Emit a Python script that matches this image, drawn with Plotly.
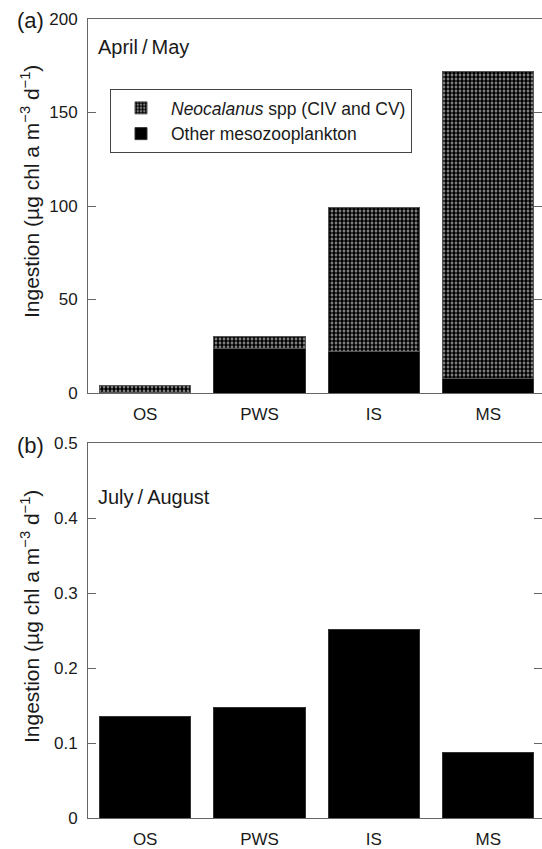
import plotly.graph_objects as go

categories = ["OS", "PWS", "IS", "MS"]
spring_other = [0.3, 24, 22, 8]
spring_neocalanus = [3.5, 6, 77, 164]
summer_other = [0.136, 0.147, 0.251, 0.088]

top_ticks = [0, 50, 100, 150, 200]
bottom_ticks = [0, 0.1, 0.2, 0.3, 0.4, 0.5]
bottom_ticktext = ["0", "0.1", "0.2", "0.3", "0.4", "0.5"]

FONT = "Liberation Sans, Arial, sans-serif"
AXC = "#666666"
TXT = "#1a1a1a"
W, H = 542, 849
L, R, T, B = 88, 0, 19, 31
PW, PH = W - L - R, H - T - B


def px_x(x):
    return (x - L) / PW


def px_y(y):
    return (H - B - y) / PH


fig = go.Figure()
fig.add_trace(go.Bar(
    x=categories, y=spring_other, name="Other mesozooplankton",
    marker=dict(color="black", line=dict(color="#333333", width=1)),
    width=0.8, xaxis="x", yaxis="y",
))
fig.add_trace(go.Bar(
    x=categories, y=spring_neocalanus, name="<i>Neocalanus</i> spp (CIV and CV)",
    marker=dict(color="#999999", line=dict(color="#555555", width=1),
                pattern=dict(shape=".", size=4, solidity=0.7,
                             fgcolor="black", bgcolor="#b0b0b0", fillmode="replace")),
    width=0.8, xaxis="x", yaxis="y",
))
fig.add_trace(go.Bar(
    x=categories, y=summer_other, name="Other mesozooplankton", showlegend=False,
    marker=dict(color="black", line=dict(color="#333333", width=1)),
    width=0.8, xaxis="x2", yaxis="y2",
))

xcommon = dict(type="category", range=[-0.5, 3.47], showline=True, linecolor=AXC,
               linewidth=1, mirror=True, ticks="", showgrid=False, zeroline=False,
               tickfont=dict(size=17, color=TXT, family=FONT),
               ticklabelstandoff=6)
ycommon = dict(showline=True, linecolor=AXC, linewidth=1, mirror="ticks",
               ticks="inside", ticklen=8, tickcolor=AXC, showgrid=False,
               zeroline=False, tickfont=dict(size=17, color=TXT, family=FONT),
               ticklabelstandoff=6)

top_dom = [px_y(393), 1.0]
bot_dom = [0.0, px_y(443)]

fig.update_layout(
    width=W, height=H, margin=dict(l=L, r=R, t=T, b=B),
    paper_bgcolor="white", plot_bgcolor="white",
    barmode="stack", bargap=0.2,
    font=dict(family=FONT, color=TXT),
    xaxis=dict(xcommon, anchor="y", domain=[0, 1]),
    yaxis=dict(ycommon, anchor="x", domain=top_dom, range=[0, 200],
               tickvals=top_ticks),
    xaxis2=dict(xcommon, anchor="y2", domain=[0, 1]),
    yaxis2=dict(ycommon, anchor="x2", domain=bot_dom, range=[0, 0.5],
                tickvals=bottom_ticks, ticktext=bottom_ticktext),
    legend=dict(x=px_x(110), y=px_y(89), xanchor="left", yanchor="top",
                traceorder="reversed", bordercolor="#444444", borderwidth=1,
                bgcolor="white", font=dict(size=17.5, family=FONT, color=TXT),
                itemwidth=50, tracegroupgap=0),
    showlegend=True,
)

title = "Ingestion (µg chl a m<sup>−3</sup> d<sup>−1</sup>)"
ann = [
    dict(text="(a)", x=px_x(15), y=px_y(21), xanchor="left", yanchor="middle", size=22),
    dict(text="(b)", x=px_x(15), y=px_y(445), xanchor="left", yanchor="middle", size=22),
    dict(text="April\u2009/\u2009May", x=px_x(96), y=px_y(47), xanchor="left",
         yanchor="middle", size=20),
    dict(text="July\u2009/\u2009August", x=px_x(96), y=px_y(497), xanchor="left",
         yanchor="middle", size=20),
    dict(text=title, x=px_x(30), y=px_y(192), xanchor="center", yanchor="middle",
         textangle=-90, size=21),
    dict(text=title, x=px_x(30), y=px_y(617), xanchor="center", yanchor="middle",
         textangle=-90, size=21),
]
for a in ann:
    s = a.pop("size")
    a.update(xref="paper", yref="paper", showarrow=False,
             font=dict(size=s, family=FONT, color=TXT))
fig.update_layout(annotations=ann)

fig.write_html("out.html")
